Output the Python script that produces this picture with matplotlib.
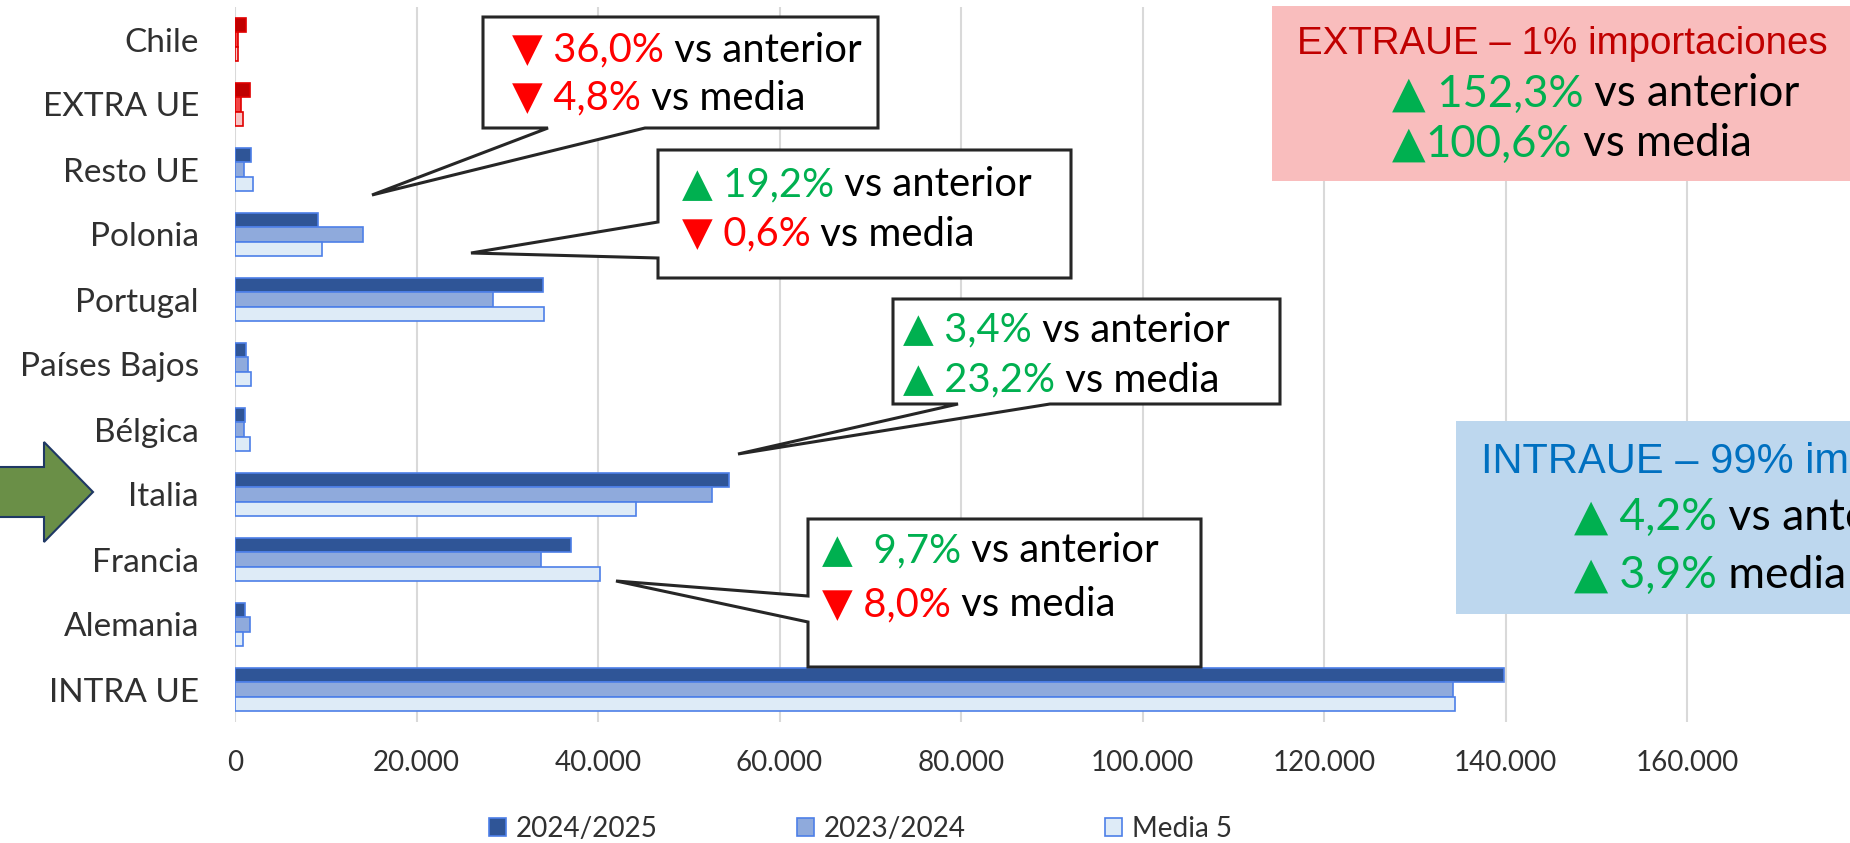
import matplotlib
matplotlib.use('Agg')
import matplotlib.pyplot as plt
from matplotlib.patches import Polygon, Rectangle, Patch
from matplotlib import font_manager
import numpy as np

categories = ['Chile', 'EXTRA UE', 'Resto UE', 'Polonia', 'Portugal', 'Países Bajos',
              'Bélgica', 'Italia', 'Francia', 'Alemania', 'INTRA UE']
s2425 = [1180, 1690, 1730, 9140, 33900, 1250, 1100, 54400, 36990, 1060, 139780]
s2324 = [300, 700, 1000, 14140, 28460, 1430, 990, 52600, 33750, 1690, 134170]
media5 = [350, 880, 1950, 9580, 34080, 1760, 1690, 44150, 40220, 920, 134460]
series_names = ['2024/2025', '2023/2024', 'Media 5']
extra_ue = ['Chile', 'EXTRA UE']
xticks = list(range(0, 180001, 20000))
xlabels = [f"{v:,.0f}".replace(',', '.') if v <= 160000 else '' for v in xticks]

W, H = 1850, 843
FONT = ['Lato', 'DejaVu Sans']


def has_font(name):
    try:
        font_manager.findfont(name, fallback_to_default=False)
        return True
    except Exception:
        return False


TITLE_FONT = 'Liberation Sans' if has_font('Liberation Sans') else 'DejaVu Sans'

blue_fill = ['#2F5597', '#8FAADC', '#DEEBF7']
red_fill = ['#C00000', '#F24545', '#F8C6C6']
blue_edge = '#4D7FE8'
red_edge = '#E00000'
txt_gray = '#303030'

fig = plt.figure(figsize=(W / 100, H / 100), dpi=100)
ax = fig.add_axes([235 / W, 1 - 722 / H, (1868.5 - 235) / W, 715 / H])

y = np.arange(len(categories))
h = 0.223
for i, vals in enumerate([s2425, s2324, media5]):
    fc = [red_fill[i] if c in extra_ue else blue_fill[i] for c in categories]
    ec = [red_edge if c in extra_ue else blue_edge for c in categories]
    ax.barh(y + (i - 1) * h, vals, height=h, color=fc, edgecolor=ec, linewidth=1.2, zorder=3)

ax.set_xlim(0, 180000)
ax.set_ylim(len(categories) - 0.5, -0.5)
ax.set_xticks(xticks)
ax.set_xticklabels(xlabels, fontsize=20, family=FONT, color=txt_gray)
ax.set_yticks(y)
ax.set_yticklabels(categories, fontsize=24, family=FONT, color=txt_gray)
ax.tick_params(axis='both', length=0)
ax.tick_params(axis='y', pad=26)
ax.tick_params(axis='x', pad=20)
ax.grid(axis='x', color='#D9D9D9', linewidth=1.5, zorder=0)
ax.set_axisbelow(True)
for s in ax.spines.values():
    s.set_visible(False)

handles = [Patch(facecolor=blue_fill[i], edgecolor=blue_edge, linewidth=1.2) for i in range(3)]
fig.legend(handles, series_names, loc='center left', bbox_to_anchor=(489 / W, 1 - 829 / H),
           ncol=3, frameon=False, prop={'family': FONT, 'size': 20.1}, labelcolor=txt_gray,
           handlelength=0.6, handleheight=0.6, handletextpad=0.35, columnspacing=5.0,
           borderpad=0, borderaxespad=0)


def fx(x, yy):
    return (x / W, 1 - yy / H)


def poly(points, fc, ec, lw, z=5):
    p = Polygon([fx(a, b) for a, b in points], closed=True, facecolor=fc, edgecolor=ec,
                linewidth=lw, transform=fig.transFigure, zorder=z, joinstyle='miter')
    fig.add_artist(p)


renderer = fig.canvas.get_renderer()


def rich(x, yy, parts, size):
    for txt, col in parts:
        t = fig.text(x / W, 1 - yy / H, txt, color=col, fontsize=size, family=FONT,
                     ha='left', va='center', zorder=7)
        x += t.get_window_extent(renderer).width


RED = '#FF0000'
GREEN = '#00B050'
BLK = '#000000'

# boxes on the right
fig.add_artist(Rectangle(fx(1272, 181), (W + 20 - 1272) / W, 175 / H, transform=fig.transFigure,
                         facecolor='#F9BDBD', edgecolor='none', zorder=4))
fig.add_artist(Rectangle(fx(1456, 614), (W + 20 - 1456) / W, 193 / H, transform=fig.transFigure,
                         facecolor='#BDD7EE', edgecolor='none', zorder=4))

# size the title so its width matches the reference (about 531 px)
t_ext = fig.text(1562 / W, 1 - 44 / H, 'EXTRAUE – 1% importaciones', color='#C00000',
                 fontsize=28, family=TITLE_FONT, ha='center', va='center', zorder=7)
title_size = 28 * 531 / t_ext.get_window_extent(renderer).width
t_ext.set_fontsize(title_size)
rich(1392, 94, [('▲', GREEN), (' 152,3%', GREEN), (' vs anterior', BLK)], 31.5)
rich(1392, 144, [('▲', GREEN), ('100,6%', GREEN), (' vs media', BLK)], 31.5)
fig.text(1481 / W, 1 - 462 / H, 'INTRAUE – 99% importaciones', color='#0070C0',
         fontsize=title_size * 1.08, family=TITLE_FONT, ha='left', va='center', zorder=7)
rich(1574, 517, [('▲', GREEN), (' 4,2%', GREEN), (' vs anterior', BLK)], 32)
rich(1574, 575, [('▲', GREEN), (' 3,9%', GREEN), (' media', BLK)], 32)

# callouts
CL = '#262626'
CS = 28.8
poly([(483, 17), (878, 17), (878, 128), (645, 128), (372, 195), (548, 128), (483, 128)],
     'white', CL, 2.2)
rich(512, 50, [('▼', RED), (' 36,0%', RED), (' vs anterior', BLK)], CS)
rich(512, 98, [('▼', RED), (' 4,8%', RED), (' vs media', BLK)], CS)

poly([(658, 150), (1071, 150), (1071, 278), (658, 278), (658, 258), (471, 253), (658, 222)],
     'white', CL, 2.2)
rich(682, 185, [('▲', GREEN), (' 19,2%', GREEN), (' vs anterior', BLK)], CS)
rich(682, 234, [('▼', RED), (' 0,6%', RED), (' vs media', BLK)], CS)

poly([(893, 299), (1280, 299), (1280, 404), (1050, 404), (738, 454), (958, 404), (893, 404)],
     'white', CL, 2.2)
rich(903, 330, [('▲', GREEN), (' 3,4%', GREEN), (' vs anterior', BLK)], CS)
rich(903, 380, [('▲', GREEN), (' 23,2%', GREEN), (' vs media', BLK)], CS)

poly([(808, 519), (1201, 519), (1201, 667), (808, 667), (808, 622), (616, 581), (808, 596)],
     'white', CL, 2.2)
rich(822, 551, [('▲', GREEN), ('  9,7%', GREEN), (' vs anterior', BLK)], CS)
rich(822, 605, [('▼', RED), (' 8,0%', RED), (' vs media', BLK)], CS)

# green arrow pointing at Italia
poly([(-5, 467), (44, 467), (44, 442), (93, 492), (44, 542), (44, 517), (-5, 517)],
     '#6A8F47', '#1F3864', 1.5)

fig.savefig('out.png', dpi=100)
